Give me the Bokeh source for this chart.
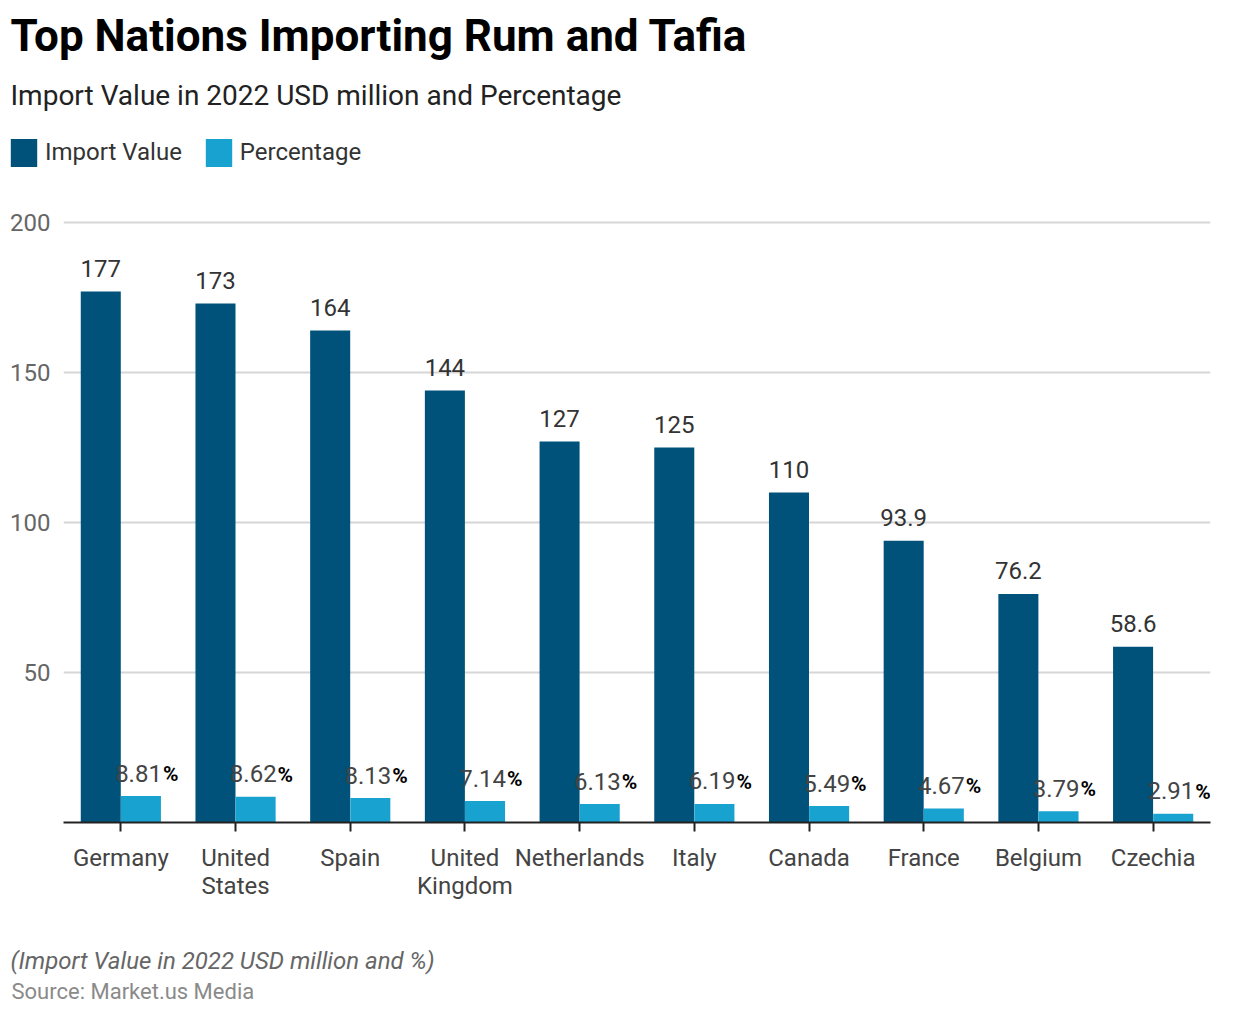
from bokeh.plotting import figure
from bokeh.models import (ColumnDataSource, Title, Legend, LegendItem, FactorRange,
                          Range1d, Label)
from bokeh.layouts import column
from bokeh.transform import dodge
from bokeh.core.properties import value
from bokeh.embed import file_html
from bokeh.resources import INLINE

countries = ["Germany", "United\nStates", "Spain", "United\nKingdom", "Netherlands",
             "Italy", "Canada", "France", "Belgium", "Czechia"]
import_value = [177, 173, 164, 144, 127, 125, 110, 93.9, 76.2, 58.6]
percentage = [8.81, 8.62, 8.13, 7.14, 6.13, 6.19, 5.49, 4.67, 3.79, 2.91]
y_ticks = [50, 100, 150, 200]
series_names = ["Import Value", "Percentage"]

DARK = "#01527B"
LIGHT = "#18A2CF"
FONT = "Roboto"
W = 1239
HEAD_H = 180

# ---------------- header: title, subtitle, legend ----------------
head = figure(width=W, height=HEAD_H, x_range=Range1d(0, W), y_range=Range1d(HEAD_H, 0),
              x_axis_type=None, y_axis_type=None, output_backend="svg", toolbar_location=None,
              min_border=0, min_border_left=0, min_border_right=0,
              min_border_top=0, min_border_bottom=0)
head.frame_align = False
head.outline_line_color = None
head.xgrid.visible = False
head.ygrid.visible = False

head.add_layout(Label(x=10, y=35.5, text="Top Nations Importing Rum and Tafia",
                      text_font=FONT, text_font_size="44px", text_font_style="bold",
                      text_color="#000000", text_baseline="alphabetic", text_align="left"))
head.add_layout(Label(x=10, y=94.5, text="Import Value in 2022 USD million and Percentage",
                      text_font=FONT, text_font_size="28px", text_font_style="normal",
                      text_color="#222222", text_baseline="alphabetic", text_align="left"))

# legend proxies (hidden; only their swatches are shown in the legend)
g1 = head.vbar(x=[0], top=[0], width=1, fill_color=DARK, line_color=None, visible=False)
g2 = head.vbar(x=[0], top=[0], width=1, fill_color=LIGHT, line_color=None, visible=False)
legend = Legend(items=[LegendItem(label=series_names[0], renderers=[g1]),
                       LegendItem(label=series_names[1], renderers=[g2])],
                orientation="horizontal", location=(7, 10.5),
                glyph_width=33, glyph_height=35, label_standoff=5, spacing=20,
                padding=0, margin=0, border_line_color=None, background_fill_alpha=0,
                inactive_fill_alpha=0,
                label_text_font=FONT, label_text_font_size="24px", label_text_color="#333333")
head.add_layout(legend)

# ---------------- main chart ----------------
src = ColumnDataSource(dict(
    country=countries,
    iv=import_value,
    pct=percentage,
    iv_lbl=[f"{v:g}" for v in import_value],
    pct_lbl=[f"{v:.2f}" for v in percentage],
    pct_sign=["%"] * len(countries),
))

p = figure(width=W, height=830, x_range=FactorRange(*countries), y_range=(0, 201),
           output_backend="svg", toolbar_location=None,
           min_border_left=63, min_border_right=29, min_border_top=219 - HEAD_H,
           min_border_bottom=188)
p.outline_line_color = None

off = 0.175
bw = 0.349
p.vbar(x=dodge("country", -off, range=p.x_range), top="iv", width=bw, source=src,
       fill_color=DARK, line_color=None)
p.vbar(x=dodge("country", off, range=p.x_range), top="pct", width=bw, source=src,
       fill_color=LIGHT, line_color=None)

p.text(x=dodge("country", -off, range=p.x_range), y="iv", text="iv_lbl", source=src,
       text_align="center", text_baseline="alphabetic", y_offset=-23,
       text_font=value(FONT), text_font_size="24px", text_color="#333333")
p.text(x=dodge("country", off, range=p.x_range), y="pct", text="pct_lbl", source=src,
       text_align="right", text_baseline="alphabetic", x_offset=21, y_offset=-23,
       text_font=value(FONT), text_font_size="24px", text_color="#444444")
p.text(x=dodge("country", off, range=p.x_range), y="pct", text="pct_sign", source=src,
       text_align="left", text_baseline="alphabetic", x_offset=22, y_offset=-22,
       text_font=value(FONT), text_font_size="21px", text_font_style="bold", text_color="#000000")

p.xaxis.axis_line_color = "#222222"
p.xaxis.axis_line_width = 2
p.xaxis.major_tick_line_color = "#222222"
p.xaxis.major_tick_line_width = 2
p.xaxis.major_tick_out = 9
p.xaxis.major_tick_in = 0
p.xaxis.minor_tick_line_color = None
p.xaxis.major_label_text_font = FONT
p.xaxis.major_label_text_font_size = "24px"
p.xaxis.major_label_text_color = "#444444"
p.xaxis.major_label_text_line_height = 1.0
p.xaxis.major_label_standoff = 12
p.xgrid.grid_line_color = None

p.yaxis.ticker = y_ticks
p.yaxis.axis_line_color = None
p.yaxis.major_tick_line_color = None
p.yaxis.major_tick_out = 0
p.yaxis.major_tick_in = 0
p.yaxis.minor_tick_line_color = None
p.yaxis.major_label_text_font = FONT
p.yaxis.major_label_text_font_size = "24px"
p.yaxis.major_label_text_color = "#666666"
p.yaxis.major_label_standoff = 13
p.ygrid.ticker = y_ticks
p.ygrid.grid_line_color = "#D6D6D6"
p.ygrid.grid_line_width = 2

# below: spacer, note, source
p.add_layout(Title(text=" ", align="left", offset=0, standoff=39,
                   text_font=FONT, text_font_size="1px", text_color="#FFFFFF"), "below")
p.add_layout(Title(text="(Import Value in 2022 USD million and %)", align="left",
                   offset=-53, standoff=0, text_font=FONT, text_font_size="24px",
                   text_font_style="italic", text_color="#666666"), "below")
p.add_layout(Title(text="Source: Market.us Media", align="left",
                   offset=-52, standoff=5, text_font=FONT, text_font_size="22px",
                   text_font_style="normal", text_color="#8A8A8A"), "below")

layout = column(head, p, spacing=0)
open("out.html", "w").write(file_html(layout, INLINE))
